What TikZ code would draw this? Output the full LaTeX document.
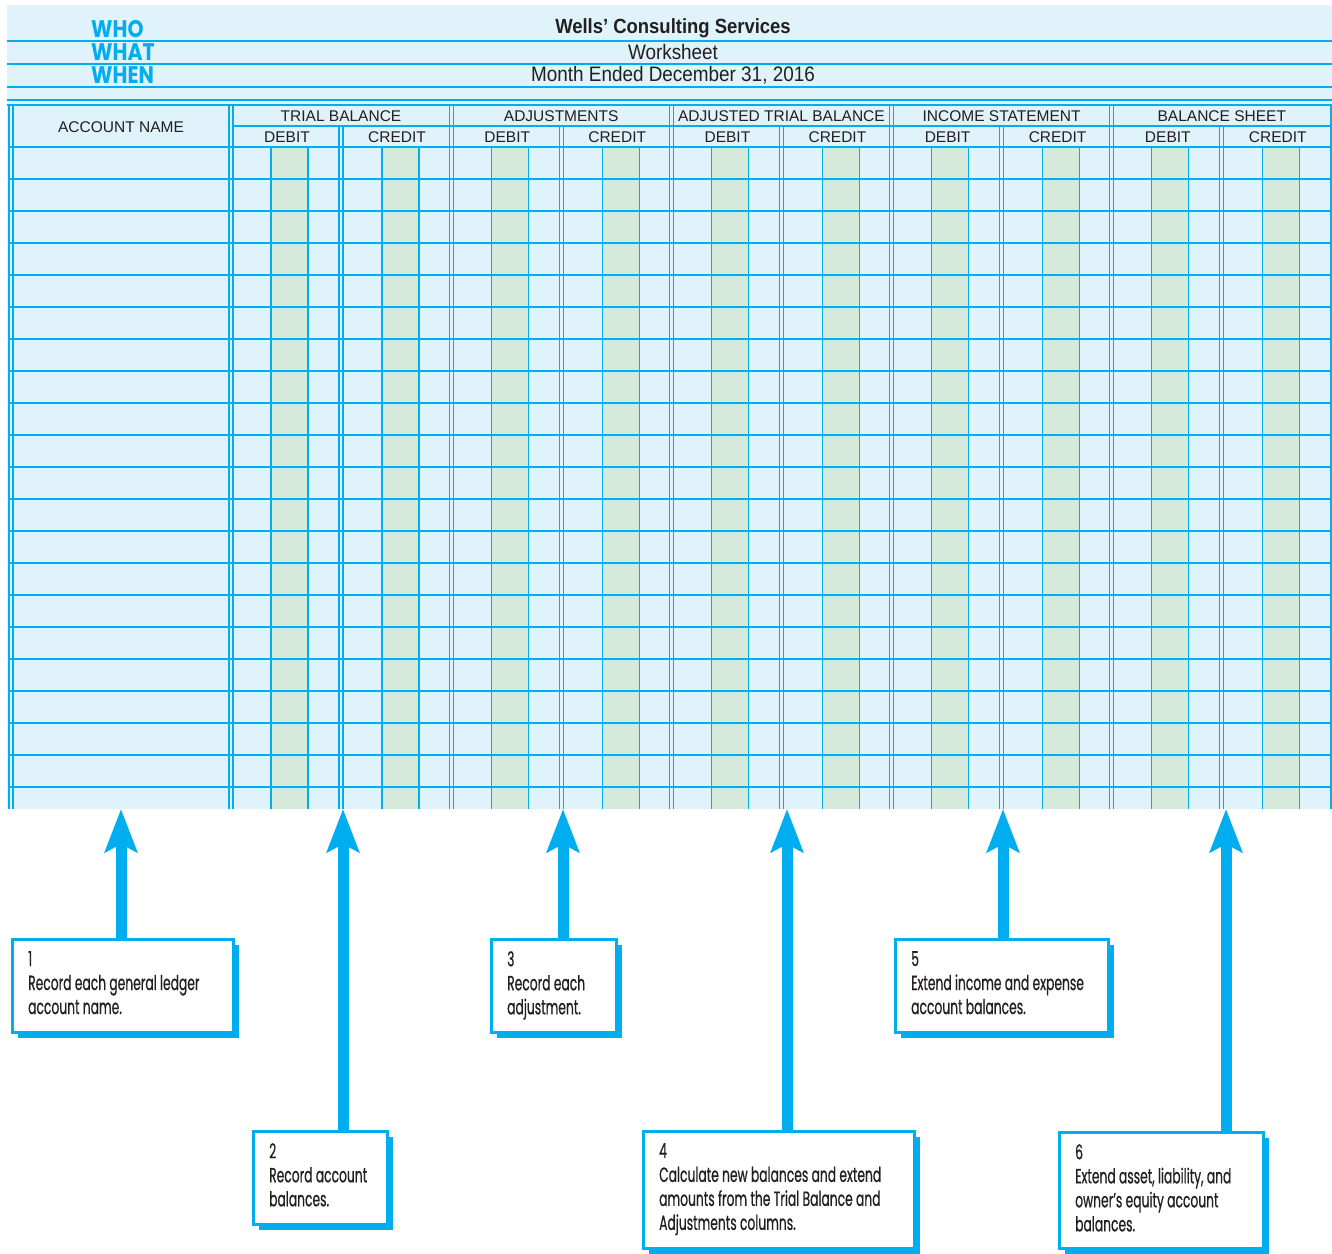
\documentclass[tikz,border=0pt]{standalone}
\usepackage{fontspec}
\setmainfont{Liberation Sans}
\newfontfamily\headfont[FakeStretch=0.9]{Liberation Sans}
\newfontfamily\whofont[FakeStretch=0.85]{Poppins}
\newfontfamily\notefont[FakeStretch=0.6,FakeBold=0.6]{Poppins}
\usetikzlibrary{arrows.meta,shadows}

\definecolor{sheetblue}{RGB}{224,242,250}
\definecolor{rulecyan}{RGB}{0,174,239}
\definecolor{stripegreen}{RGB}{214,234,220}
\definecolor{inkgray}{RGB}{35,31,32}

\def\ga{233}   % left edge of the first column group
\def\gw{220.2} % width of one column group

% callout: name, left, top, width, height, text
\def\note#1#2#3#4#5#6{
	\node[notebox,minimum width=#4pt,minimum height=#5pt,anchor=north west] (#1) at (#2,#3) {};
	\node[notetext,anchor=north west] (#1txt) at ([xshift=17pt,yshift=-13pt]#1.north west) {#6};
}

\begin{document}
\begin{tikzpicture}[x=1pt,y=-1pt,
	rule/.style={rulecyan,line width=1.1pt},
	notebox/.style={draw=rulecyan,line width=3pt,fill=white,inner sep=0pt,
		drop shadow={shadow xshift=5pt,shadow yshift=-5pt,fill=rulecyan,opacity=1}},
	notetext/.style={inner sep=0pt,align=left,text=inkgray,
		font=\notefont\fontsize{20.5}{24}\selectfont},
	colhead/.style={text=inkgray,inner sep=0pt,font=\fontsize{15.5}{16}\selectfont},
	bigarrow/.style={rulecyan,line width=11pt,-{Stealth[length=43pt,width=32pt,inset=8pt]}}]
\useasboundingbox (0,0) rectangle (1332,1253);

% the sheet
\fill[sheetblue] (7,5) rectangle (1332,809);
\foreach \k in {0,...,4}{
	\fill[stripegreen] ({\ga+\k*\gw+38},147) rectangle ({\ga+\k*\gw+75},809);
	\fill[stripegreen] ({\ga+\k*\gw+149},147) rectangle ({\ga+\k*\gw+186},809);
}
\foreach \y in {41,64,87,100,105}
	\draw[rule] (7,\y) -- (1332,\y);
\draw[rule] (\ga,126) -- (1332,126);
\foreach \r in {0,...,20}
	\draw[rule] (9,{147+32*\r}) -- (1332,{147+32*\r});
\foreach \x in {9,13,1331}
	\draw[rule] (\x,105) -- (\x,809);
\foreach \k in {0,...,4}{
	\draw[rule] ({\ga+\k*\gw-4},105) -- ++(0,704);
	\draw[rule] ({\ga+\k*\gw},105) -- ++(0,704);
	\draw[rule] ({\ga+\k*\gw+106},126) -- ++(0,683);
	\draw[rule] ({\ga+\k*\gw+110},126) -- ++(0,683);
	\foreach \s in {38,75,149,186}
		\draw[rule] ({\ga+\k*\gw+\s},147) -- ++(0,662);
}

% headings
\node[anchor=west,inner sep=0pt,text=rulecyan,font=\whofont\bfseries\fontsize{24}{24}\selectfont] (who) at (91,29) {WHO};
\node[anchor=west,inner sep=0pt,text=rulecyan,font=\whofont\bfseries\fontsize{24}{24}\selectfont] (what) at (91,52) {WHAT};
\node[anchor=west,inner sep=0pt,text=rulecyan,font=\whofont\bfseries\fontsize{24}{24}\selectfont] (when) at (91,75) {WHEN};
\node[inner sep=0pt,text=inkgray,font=\headfont\bfseries\fontsize{20.5}{20}\selectfont] (firm) at (673,28) {Wells’ Consulting Services};
\node[inner sep=0pt,text=inkgray,font=\headfont\fontsize{21}{21}\selectfont] (form) at (673,52) {Worksheet};
\node[inner sep=0pt,text=inkgray,font=\headfont\fontsize{21}{21}\selectfont] (period) at (673,75) {Month Ended December 31, 2016};

\node[colhead] (acct) at (121,127) {ACCOUNT NAME};
\foreach \name [count=\k from 0] in {TRIAL BALANCE,ADJUSTMENTS,ADJUSTED TRIAL BALANCE,INCOME STATEMENT,BALANCE SHEET}{
	\node[colhead] (grp\k) at ({\ga+\k*\gw+108},116) {\name};
	\node[colhead] (deb\k) at ({\ga+\k*\gw+54},137) {DEBIT};
	\node[colhead] (cre\k) at ({\ga+\k*\gw+164},137) {CREDIT};
}

% arrow tips
\coordinate (t1) at (121,809);
\coordinate (t2) at (343,809);
\coordinate (t3) at (563,809);
\coordinate (t4) at (787,809);
\coordinate (t5) at (1003,809);
\coordinate (t6) at (1226,809);

% callouts
\note{b1}{11}{938}{221}{93}{1\\Record each general ledger\\account name.}
\note{b2}{252}{1130}{134}{93}{2\\Record account\\balances.}
\note{b3}{490}{938}{125}{93}{3\\Record each\\adjustment.}
\note{b4}{642}{1130}{271}{117}{4\\Calculate new balances and extend\\amounts from the Trial Balance and\\Adjustments columns.}
\note{b5}{894}{938}{213}{93}{5\\Extend income and expense\\account balances.}
\note{b6}{1058}{1131}{204}{116}{6\\Extend asset, liability, and\\owner’s equity account\\balances.}

\foreach \i in {1,...,6}
	\draw[bigarrow] ([yshift=-2pt]t\i |- b\i.north) -- (t\i);
\end{tikzpicture}
\end{document}
